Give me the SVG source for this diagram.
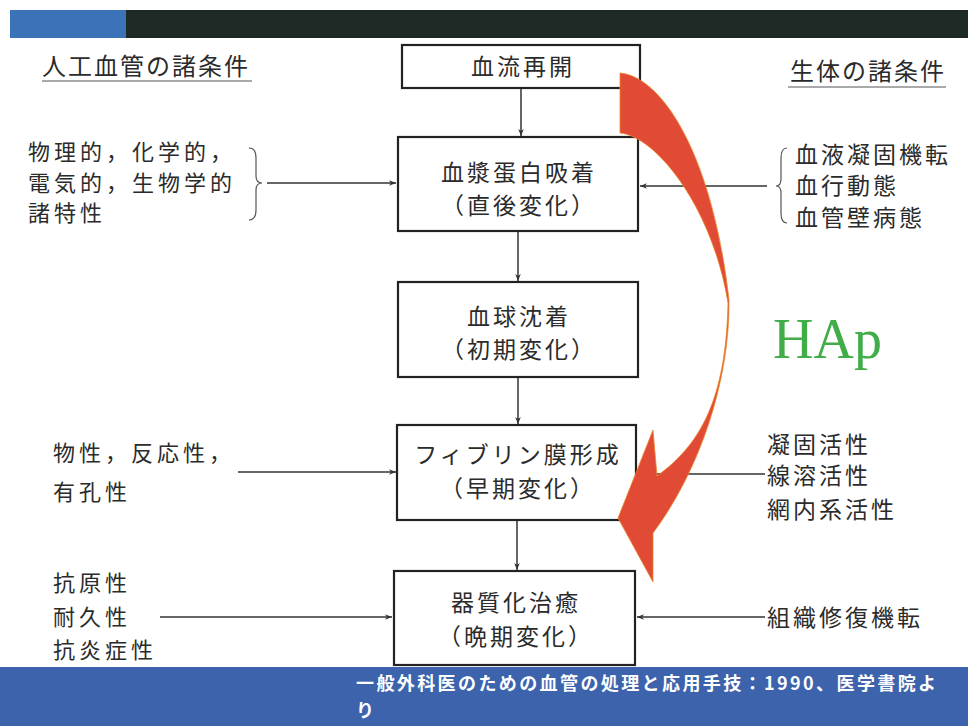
<svg xmlns="http://www.w3.org/2000/svg" width="968" height="726" viewBox="0 0 968 726">
<defs>
<style>
.t{font-family:"Noto Sans CJK JP","Noto Sans",sans-serif;font-size:22px;fill:#2b2b2b;letter-spacing:4px}
.bt{font-family:"Noto Sans CJK JP","Noto Sans",sans-serif;font-size:23px;fill:#2b2b2b;letter-spacing:3px;text-anchor:middle}
.box{fill:#fff;stroke:#222;stroke-width:2.2}
.ln{stroke:#333;stroke-width:1.5;fill:none}
.br{stroke:#555;stroke-width:1.2;fill:none}
.ft{font-family:"Noto Sans CJK JP",sans-serif;font-size:18px;font-weight:bold;fill:#fff;letter-spacing:2.4px}
</style>
<marker id="ah" viewBox="0 0 10 10" refX="10" refY="5" markerWidth="7" markerHeight="7" markerUnits="userSpaceOnUse" orient="auto">
<path d="M0,1 L10,5 L0,9 L3,5 Z" fill="#333"/>
</marker>
</defs>
<rect width="968" height="726" fill="#fff"/>
<!-- top bar -->
<rect x="10" y="10" width="958" height="28" fill="#1d2a25"/>
<rect x="10" y="10" width="116" height="28" fill="#3b72b8"/>
<!-- bottom band -->
<rect x="0" y="667" width="968" height="59" fill="#3d63ad"/>
<text class="ft" x="356" y="690">一般外科医のための血管の処理と応用手技：1990、医学書院よ</text>
<text class="ft" x="356" y="717">り</text>
<!-- headers -->
<g id="hdr-left">
<text class="t" x="42" y="75" style="font-size:24px;letter-spacing:2px">人工血管の諸条件</text>
<line x1="42" y1="81" x2="252" y2="81" class="br" stroke-width="1.6"/>
</g>
<g id="hdr-right">
<text class="t" x="790" y="80" style="font-size:24px;letter-spacing:2px">生体の諸条件</text>
<line x1="788" y1="87" x2="946" y2="87" class="br" stroke-width="1.6"/>
</g>
<!-- side conditions -->
<g id="left1">
<text class="t" x="28" y="160">物理的，化学的，</text>
<text class="t" x="28" y="191">電気的，生物学的</text>
<text class="t" x="28" y="221">諸特性</text>
<path class="br" d="M249,148 Q256,148 256,158 L256,176 Q256,183 262,183 Q256,183 256,190 L256,210 Q256,220 249,220"/>
</g>
<g id="right1">
<text class="t" x="795" y="163" style="font-size:23px;letter-spacing:3px">血液凝固機転</text>
<text class="t" x="795" y="194" style="font-size:23px;letter-spacing:3px">血行動態</text>
<text class="t" x="795" y="226" style="font-size:23px;letter-spacing:3px">血管壁病態</text>
<path class="br" d="M787,148 Q781,148 781,158 L781,179 Q781,186 776,186 Q781,186 781,193 L781,213 Q781,223 787,223"/>
</g>
<g id="left2">
<text class="t" x="53" y="461">物性，反応性，</text>
<text class="t" x="53" y="500">有孔性</text>
</g>
<g id="right2">
<text class="t" x="767" y="453" style="font-size:23px;letter-spacing:3px">凝固活性</text>
<text class="t" x="767" y="484" style="font-size:23px;letter-spacing:3px">線溶活性</text>
<text class="t" x="767" y="518" style="font-size:23px;letter-spacing:3px">網内系活性</text>
</g>
<g id="left3">
<text class="t" x="53" y="591">抗原性</text>
<text class="t" x="53" y="625">耐久性</text>
<text class="t" x="53" y="658">抗炎症性</text>
</g>
<g id="right3">
<text class="t" x="767" y="626" style="font-size:23px;letter-spacing:3px">組織修復機転</text>
</g>
<!-- connectors -->
<g id="connectors">
<line class="ln" x1="521" y1="88" x2="521" y2="136" marker-end="url(#ah)"/>
<line class="ln" x1="518" y1="231" x2="518" y2="281" marker-end="url(#ah)"/>
<line class="ln" x1="518" y1="377" x2="518" y2="424" marker-end="url(#ah)"/>
<line class="ln" x1="517" y1="520" x2="517" y2="570" marker-end="url(#ah)"/>
<line class="ln" x1="267" y1="183" x2="396" y2="183" marker-end="url(#ah)"/>
<line class="ln" x1="767" y1="186" x2="640" y2="186" marker-end="url(#ah)"/>
<line class="ln" x1="238" y1="472" x2="396" y2="472" marker-end="url(#ah)"/>
<line class="ln" x1="765" y1="474" x2="638" y2="474" marker-end="url(#ah)"/>
<line class="ln" x1="160" y1="617" x2="392" y2="617" marker-end="url(#ah)"/>
<line class="ln" x1="765" y1="617" x2="637" y2="617" marker-end="url(#ah)"/>
</g>
<!-- nodes -->
<g id="n1">
<rect class="box" x="402" y="45" width="238" height="43"/>
<text class="bt" x="523" y="75">血流再開</text>
</g>
<g id="n2">
<rect class="box" x="398" y="137" width="240" height="94"/>
<text class="bt" x="519" y="181">血漿蛋白吸着</text>
<text class="bt" x="519" y="214">（直後変化）</text>
</g>
<g id="n3">
<rect class="box" x="398" y="282" width="240" height="95"/>
<text class="bt" x="519" y="325">血球沈着</text>
<text class="bt" x="519" y="358">（初期変化）</text>
</g>
<g id="n4">
<rect class="box" x="397" y="425" width="239" height="95"/>
<text class="bt" x="518" y="463">フィブリン膜形成</text>
<text class="bt" x="518" y="497">（早期変化）</text>
</g>
<g id="n5">
<rect class="box" x="394" y="571" width="241" height="94"/>
<text class="bt" x="516" y="611">器質化治癒</text>
<text class="bt" x="516" y="645">（晩期変化）</text>
</g>
<!-- red curved arrow -->
<g id="hap-arrow">
<path fill="#e14a35" stroke="#e8862a" stroke-width="0.8" d="M620,73 C660,76 712,150 729,300 C730,380 700,470 653,533 L653,582 L618,518 L653,430 L657,476 C700,445 726,400 728,303 C712,205 655,136 620,133 Z"/>
</g>
<text x="773" y="358" font-family="'Liberation Serif',serif" font-size="56" fill="#41ad49">HAp</text>
</svg>
